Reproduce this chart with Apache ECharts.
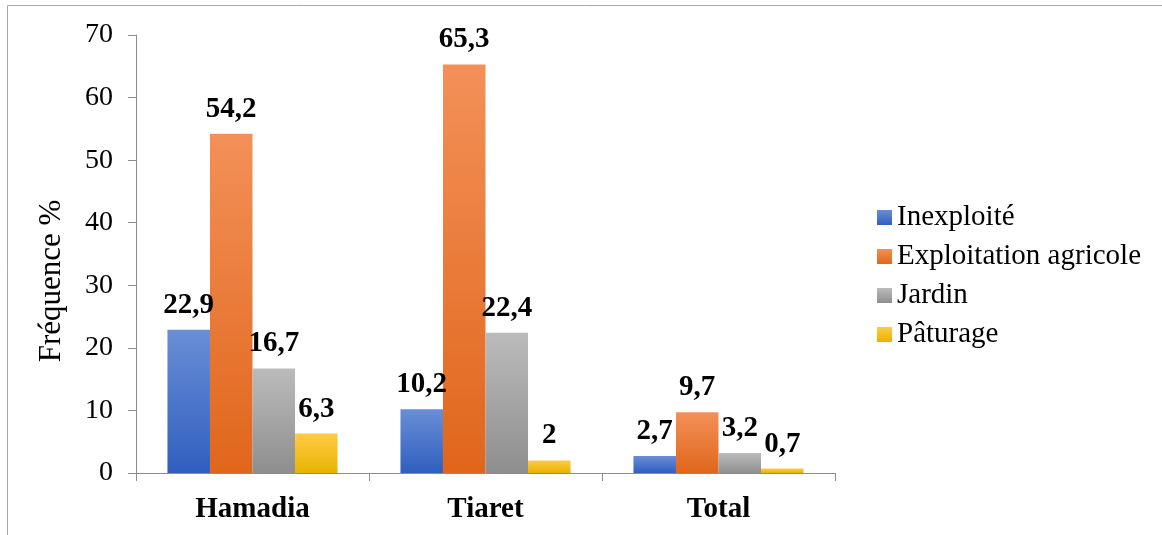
<!DOCTYPE html>
<html>
<head>
<meta charset="utf-8">
<script src="https://cdn.jsdelivr.net/npm/echarts@6/dist/echarts.min.js"></script>
<style>
  html, body { margin: 0; padding: 0; background: #fff; }
  #chart { width: 1162px; height: 535px; }
</style>
</head>
<body>
<div id="chart"></div>
<script>
// Land use frequency by site
const categories = ['Hamadia', 'Tiaret', 'Total'];
const seriesNames = ['Inexploité', 'Exploitation agricole', 'Jardin', 'Pâturage'];
const inexploite = [22.9, 10.2, 2.7];
const exploitation = [54.2, 65.3, 9.7];
const jardin = [16.7, 22.4, 3.2];
const paturage = [6.3, 2, 0.7];
const yTicks = { min: 0, max: 70, interval: 10 };

const font = '"Liberation Serif", "Times New Roman", serif';

function grad(top, bottom) {
  return new echarts.graphic.LinearGradient(0, 0, 0, 1, [
    { offset: 0, color: top },
    { offset: 1, color: bottom }
  ]);
}

const fills = [
  grad('#6a8ed6', '#2f5fbe'),
  grad('#f39058', '#e0661b'),
  grad('#bbbbbb', '#8e8e8e'),
  grad('#ffcb44', '#e7b300')
];
const legendColors = ['#4472c4', '#ed7d31', '#a5a5a5', '#ffc000'];
const values = [inexploite, exploitation, jardin, paturage];

const chart = echarts.init(document.getElementById('chart'), null, { renderer: 'canvas' });

chart.setOption({
  animation: false,
  textStyle: { fontFamily: font },
  color: legendColors,
  graphic: [{
    type: 'rect',
    shape: { x: 7.5, y: 5.5, width: 1200, height: 600 },
    style: { fill: 'none', stroke: '#a6a6a6', lineWidth: 1 },
    silent: true
  }],
  grid: { left: 136, right: 327, top: 35, bottom: 62 },
  legend: {
    orient: 'vertical',
    left: 872,
    top: 198,
    itemWidth: 15,
    itemHeight: 15,
    itemGap: 10,
    itemTextGap: 6,
    icon: 'rect',
    textStyle: { fontFamily: font, fontSize: 29, color: '#000', lineHeight: 29 },
    data: seriesNames
  },
  xAxis: {
    type: 'category',
    data: categories,
    axisLine: { lineStyle: { color: '#8c8c8c', width: 1 } },
    axisTick: { show: true, length: 8, alignWithLabel: false, lineStyle: { color: '#8c8c8c' } },
    axisLabel: { fontFamily: font, fontSize: 29, fontWeight: 'bold', color: '#000', margin: 22 }
  },
  yAxis: {
    type: 'value',
    min: yTicks.min,
    max: yTicks.max,
    interval: yTicks.interval,
    name: 'Fréquence %',
    nameLocation: 'middle',
    nameRotate: 90,
    nameGap: 69,
    nameTextStyle: { fontFamily: font, fontSize: 31, color: '#000', padding: [0, 54, 0, 0] },
    splitLine: { show: false },
    axisLine: { show: true, lineStyle: { color: '#8c8c8c', width: 1 } },
    axisTick: { show: true, length: 8, lineStyle: { color: '#8c8c8c' } },
    axisLabel: { fontFamily: font, fontSize: 28, color: '#000', margin: 23 }
  },
  series: seriesNames.map((name, i) => ({
    name,
    type: 'bar',
    data: values[i],
    barGap: '0%',
    barCategoryGap: '27%',
    itemStyle: { color: fills[i] },
    label: {
      show: true,
      position: 'top',
      distance: 10,
      fontFamily: font,
      fontSize: 29,
      fontWeight: 'bold',
      color: '#000',
      formatter: p => String(p.value).replace('.', ',')
    }
  }))
});
</script>
</body>
</html>
